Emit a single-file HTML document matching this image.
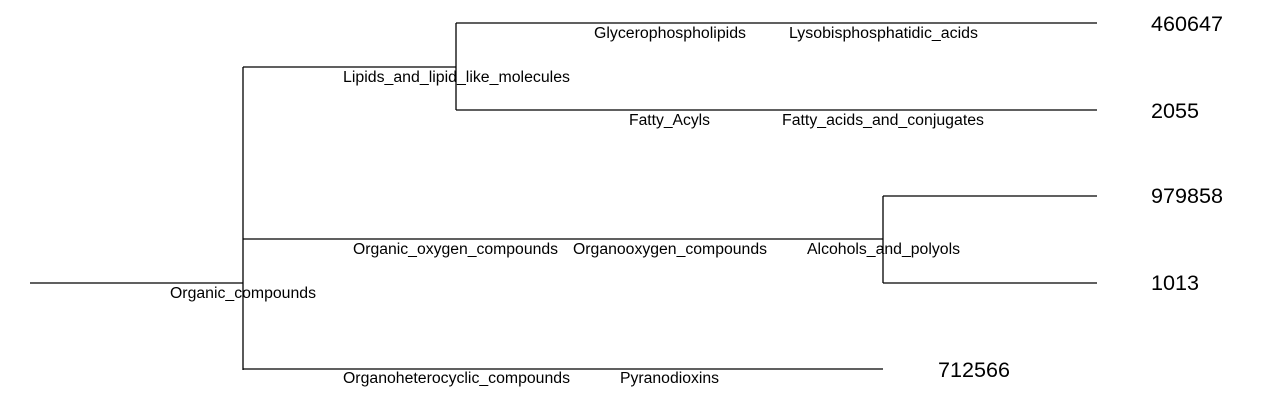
<!DOCTYPE html>
<html><head><meta charset="utf-8"><style>
html,body{margin:0;padding:0;background:#fff;width:1274px;height:402px;overflow:hidden}
svg text{font-family:"Liberation Sans",Arial,sans-serif;fill:#000}
.s{font-size:15.5px}.n{font-size:21px}
</style></head><body>
<svg width="1274" height="402" viewBox="0 0 1274 402" xmlns="http://www.w3.org/2000/svg">
<g stroke="#000" stroke-width="1.3" fill="none">
<line x1="30" y1="283" x2="243" y2="283"/>
<line x1="243" y1="67" x2="243" y2="370"/>
<line x1="243" y1="67" x2="456" y2="67"/>
<line x1="456" y1="23" x2="456" y2="110"/>
<line x1="456" y1="23" x2="1097" y2="23"/>
<line x1="456" y1="110" x2="1097" y2="110"/>
<line x1="243" y1="239" x2="883" y2="239"/>
<line x1="883" y1="196" x2="883" y2="283"/>
<line x1="883" y1="196" x2="1097" y2="196"/>
<line x1="883" y1="283" x2="1097" y2="283"/>
<line x1="243" y1="369" x2="883" y2="369"/>
</g>
<g lengthAdjust="spacingAndGlyphs">
<text class="s" x="170" y="298" textLength="146" lengthAdjust="spacingAndGlyphs">Organic_compounds</text>
<text class="s" x="343" y="82" textLength="227" lengthAdjust="spacingAndGlyphs">Lipids_and_lipid_like_molecules</text>
<text class="s" x="594" y="38" textLength="152" lengthAdjust="spacingAndGlyphs">Glycerophospholipids</text>
<text class="s" x="789" y="38" textLength="189" lengthAdjust="spacingAndGlyphs">Lysobisphosphatidic_acids</text>
<text class="s" x="629" y="125" textLength="81" lengthAdjust="spacingAndGlyphs">Fatty_Acyls</text>
<text class="s" x="782" y="125" textLength="202" lengthAdjust="spacingAndGlyphs">Fatty_acids_and_conjugates</text>
<text class="s" x="353" y="254" textLength="205" lengthAdjust="spacingAndGlyphs">Organic_oxygen_compounds</text>
<text class="s" x="573" y="254" textLength="194" lengthAdjust="spacingAndGlyphs">Organooxygen_compounds</text>
<text class="s" x="807" y="254" textLength="153" lengthAdjust="spacingAndGlyphs">Alcohols_and_polyols</text>
<text class="s" x="343" y="383" textLength="227" lengthAdjust="spacingAndGlyphs">Organoheterocyclic_compounds</text>
<text class="s" x="620" y="383" textLength="99" lengthAdjust="spacingAndGlyphs">Pyranodioxins</text>
</g>
<text class="n" x="1151" y="31" textLength="72" lengthAdjust="spacingAndGlyphs">460647</text>
<text class="n" x="1151" y="118" textLength="48" lengthAdjust="spacingAndGlyphs">2055</text>
<text class="n" x="1151" y="203" textLength="72" lengthAdjust="spacingAndGlyphs">979858</text>
<text class="n" x="1151" y="290" textLength="48" lengthAdjust="spacingAndGlyphs">1013</text>
<text class="n" x="938" y="377" textLength="72" lengthAdjust="spacingAndGlyphs">712566</text>
</svg>
</body></html>
